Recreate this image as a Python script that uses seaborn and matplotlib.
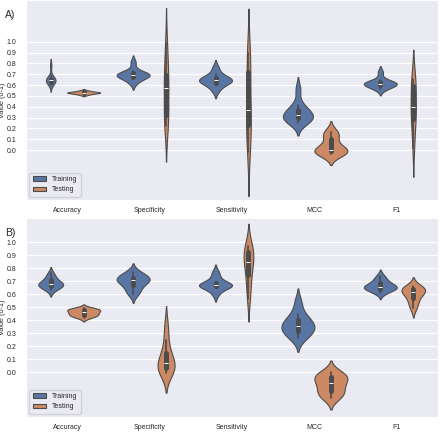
import pandas as pd
import matplotlib
matplotlib.use('Agg')
import matplotlib.pyplot as plt
import seaborn as sns

# categories
metrics = ['Accuracy', 'Specificity', 'Sensitivity', 'MCC', 'F1']
sets = ['Training', 'Testing']

# --- A) fold scores ---
a_train_acc = [0.60, 0.62, 0.63, 0.64, 0.645, 0.65, 0.655, 0.66, 0.68, 0.78]
a_test_acc = [0.51, 0.518, 0.524, 0.528, 0.53, 0.531, 0.533, 0.536, 0.542, 0.55]
a_train_spec = [0.62, 0.655, 0.675, 0.685, 0.69, 0.695, 0.70, 0.71, 0.73, 0.81]
a_test_spec = [0.22, 0.27, 0.31, 0.36, 0.55, 0.59, 0.66, 0.70, 0.86, 0.985]
a_train_sens = [0.55, 0.60, 0.62, 0.635, 0.64, 0.65, 0.655, 0.67, 0.70, 0.76]
a_test_sens = [-0.02, 0.10, 0.22, 0.26, 0.34, 0.40, 0.62, 0.76, 0.84, 0.90]
a_train_mcc = [0.25, 0.27, 0.29, 0.30, 0.31, 0.33, 0.35, 0.38, 0.42, 0.56]
a_test_mcc = [-0.04, -0.025, -0.015, -0.005, 0.0, 0.005, 0.05, 0.12, 0.15, 0.17]
a_train_f1 = [0.56, 0.58, 0.595, 0.605, 0.61, 0.615, 0.62, 0.63, 0.65, 0.72]
a_test_f1 = [0.02, 0.18, 0.28, 0.32, 0.38, 0.42, 0.52, 0.62, 0.64, 0.66]

# --- B) fold scores ---
b_train_acc = [0.63, 0.65, 0.66, 0.67, 0.675, 0.68, 0.69, 0.71, 0.73, 0.76]
b_test_acc = [0.42, 0.43, 0.44, 0.445, 0.455, 0.465, 0.475, 0.48, 0.485, 0.49]
b_train_spec = [0.60, 0.63, 0.66, 0.69, 0.70, 0.71, 0.72, 0.73, 0.75, 0.77]
b_test_spec = [-0.01, 0.01, 0.025, 0.04, 0.055, 0.08, 0.11, 0.16, 0.25, 0.36]
b_train_sens = [0.60, 0.645, 0.66, 0.665, 0.668, 0.672, 0.676, 0.685, 0.73, 0.77]
b_test_sens = [0.56, 0.65, 0.73, 0.79, 0.83, 0.87, 0.90, 0.93, 0.95, 0.97]
b_train_mcc = [0.26, 0.29, 0.31, 0.33, 0.35, 0.365, 0.385, 0.41, 0.45, 0.54]
b_test_mcc = [-0.20, -0.18, -0.155, -0.13, -0.10, -0.07, -0.05, -0.035, -0.02, 0.0]
b_train_f1 = [0.61, 0.63, 0.64, 0.65, 0.655, 0.66, 0.67, 0.69, 0.71, 0.74]
b_test_f1 = [0.49, 0.53, 0.56, 0.59, 0.61, 0.625, 0.63, 0.64, 0.65, 0.66]

ytick_vals = [0.0, 0.1, 0.2, 0.3, 0.4, 0.5, 0.6, 0.7, 0.8, 0.9, 1.0]


def make_frame(train_lists, test_lists):
    rows = []
    for name, lists in zip(sets, [train_lists, test_lists]):
        for metric, vals in zip(metrics, lists):
            for v in vals:
                rows.append({'metric': metric, 'set': name, 'value': v})
    return pd.DataFrame(rows)


df_a = make_frame([a_train_acc, a_train_spec, a_train_sens, a_train_mcc, a_train_f1],
                  [a_test_acc, a_test_spec, a_test_sens, a_test_mcc, a_test_f1])
df_b = make_frame([b_train_acc, b_train_spec, b_train_sens, b_train_mcc, b_train_f1],
                  [b_test_acc, b_test_spec, b_test_sens, b_test_mcc, b_test_f1])

sns.set_style('darkgrid')
plt.rcParams['font.family'] = ['Liberation Sans', 'DejaVu Sans']
palette = sns.color_palette('deep')[:2]

fig = plt.figure(figsize=(4.4, 4.32), dpi=100)
W, H = 440, 432
ax_a = fig.add_axes([26 / W, 1 - 200 / H, 412 / W, 200 / H])
ax_b = fig.add_axes([26 / W, 1 - 417 / H, 412 / W, 199.5 / H])

for ax, df, lim, tag in [(ax_a, df_a, (-0.46, 1.385), 'A)'),
                         (ax_b, df_b, (-0.346, 1.19), 'B)')]:
    # one call per metric so the two violins of a metric share a width scale
    for i, m in enumerate(metrics):
        sns.violinplot(data=df[df['metric'] == m], x='metric', y='value', hue='set',
                       order=metrics, hue_order=sets, palette=palette, ax=ax,
                       linewidth=0.8, common_norm=True, legend=(i == 0))
    ax.set_xlim(-0.5, 4.5)
    ax.set_ylim(lim)
    ax.set_yticks(ytick_vals)
    ax.set_yticklabels([f'{v:.1f}' for v in ytick_vals])
    ax.set_xlabel('')
    ax.set_ylabel('Value (0-1)', fontsize=5.2)
    ax.yaxis.set_label_coords(-0.048, 0.5)
    ax.tick_params(axis='y', labelsize=5, pad=3.5)
    ax.tick_params(axis='x', labelsize=5, pad=1.5)
    ax.grid(axis='y', color='white', linewidth=0.8)
    sns.move_legend(ax, 'lower left', title=None, fontsize=5,
                    frameon=True, borderpad=0.45, labelspacing=0.45,
                    handlelength=2.0)
    pos = ax.get_position()
    fig.text(5 / W, pos.y1 - 15 / H, tag, fontsize=7.5, va='center', ha='left')

fig.savefig('out.png', dpi=100)
